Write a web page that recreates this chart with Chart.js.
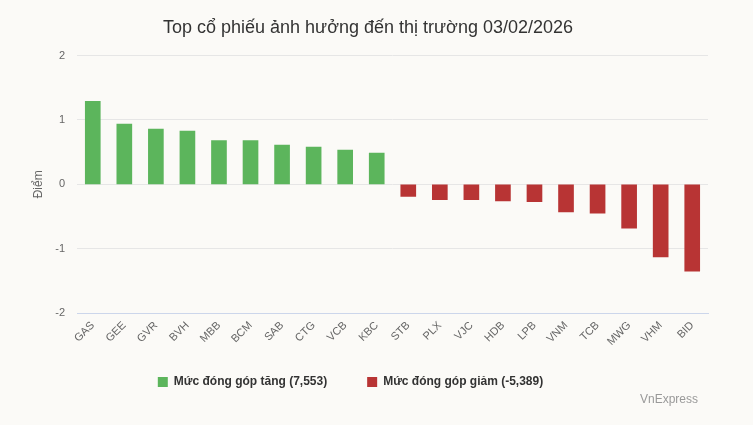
<!DOCTYPE html>
<html lang="vi">
<head>
<meta charset="utf-8">
<title>Top cổ phiếu ảnh hưởng đến thị trường</title>
<script src="https://cdn.jsdelivr.net/npm/chart.js@4.4.1/dist/chart.umd.min.js"></script>
<style>
  html, body { margin: 0; padding: 0; background: #fbfaf7; }
  #wrap { position: relative; width: 753px; height: 425px; }
</style>
</head>
<body>
<div id="wrap"><canvas id="chart" width="753" height="425"></canvas></div>
<script>
  // Dữ liệu
  const tickers = ['GAS', 'GEE', 'GVR', 'BVH', 'MBB', 'BCM', 'SAB', 'CTG', 'VCB', 'KBC',
                   'STB', 'PLX', 'VJC', 'HDB', 'LPB', 'VNM', 'TCB', 'MWG', 'VHM', 'BID'];
  const gainValues = [1.29, 0.935, 0.857, 0.826, 0.68, 0.68, 0.61, 0.578, 0.53, 0.485,
                      null, null, null, null, null, null, null, null, null, null];
  const lossValues = [null, null, null, null, null, null, null, null, null, null,
                      -0.19, -0.24, -0.24, -0.26, -0.27, -0.43, -0.45, -0.68, -1.13, -1.35];
  const seriesNames = ['Mức đóng góp tăng (7,553)', 'Mức đóng góp giảm (-5,389)'];
  const yTicks = [-2, -1, 0, 1, 2];

  const FONT = "'Liberation Sans', Arial, sans-serif";

  // Chỉnh vị trí tiêu đề, chú thích và dòng nguồn
  const layoutTweaks = {
    id: 'layoutTweaks',
    afterLayout(chart) {
      chart.titleBlock.left = 0;
      chart.titleBlock.right = 736;
      const lg = chart.legend;
      const h = lg.bottom - lg.top;
      lg.left = 0;
      lg.right = 701;
      lg.top = chart.chartArea.bottom + 23;
      lg.bottom = lg.top + h;
    },
    afterDraw(chart) {
      const ctx = chart.ctx;
      ctx.save();
      ctx.font = '12px ' + FONT;
      ctx.fillStyle = '#999999';
      ctx.textAlign = 'right';
      ctx.textBaseline = 'middle';
      ctx.fillText('VnExpress', 698, 400);
      ctx.restore();
    }
  };

  const ctx = document.getElementById('chart').getContext('2d');
  new Chart(ctx, {
    type: 'bar',
    data: {
      labels: tickers,
      datasets: [{
        label: seriesNames[0],
        data: gainValues,
        backgroundColor: '#5cb55c'
      }, {
        label: seriesNames[1],
        data: lossValues,
        backgroundColor: '#b83434'
      }]
    },
    options: {
      responsive: false,
      animation: false,
      layout: { padding: { left: 0, right: 45, top: 0, bottom: 10 } },
      datasets: { bar: { barThickness: 15 } },
      plugins: {
        title: {
          display: true,
          text: 'Top cổ phiếu ảnh hưởng đến thị trường 03/02/2026',
          color: '#333333',
          font: { family: FONT, size: 18, weight: 'normal' },
          padding: { top: 17, bottom: 17 }
        },
        legend: {
          position: 'bottom',
          labels: {
            color: '#333333',
            font: { family: FONT, size: 12, weight: 'bold' },
            boxWidth: 10,
            boxHeight: 10,
            padding: 40
          }
        },
        tooltip: { enabled: false }
      },
      scales: {
        x: {
          stacked: true,
          grid: { display: false, drawTicks: false },
          border: { display: true, color: '#ccd6eb' },
          ticks: {
            color: '#666666',
            font: { family: FONT, size: 11 },
            minRotation: 45,
            maxRotation: 45,
            padding: 6
          },
          afterFit(scale) { scale.height = 40; }
        },
        y: {
          stacked: true,
          min: -2,
          max: 2,
          afterBuildTicks(scale) { scale.ticks = yTicks.map(v => ({ value: v })); },
          grid: { color: '#e6e6e6', drawTicks: false },
          border: { display: false },
          ticks: {
            color: '#666666',
            font: { family: FONT, size: 11 },
            padding: 12
          },
          title: {
            display: true,
            text: 'Điểm',
            color: '#666666',
            font: { family: FONT, size: 12 },
            padding: { top: 31, bottom: 0 }
          },
          afterFit(scale) { scale.width = 77; }
        }
      }
    },
    plugins: [layoutTweaks]
  });
</script>
</body>
</html>
